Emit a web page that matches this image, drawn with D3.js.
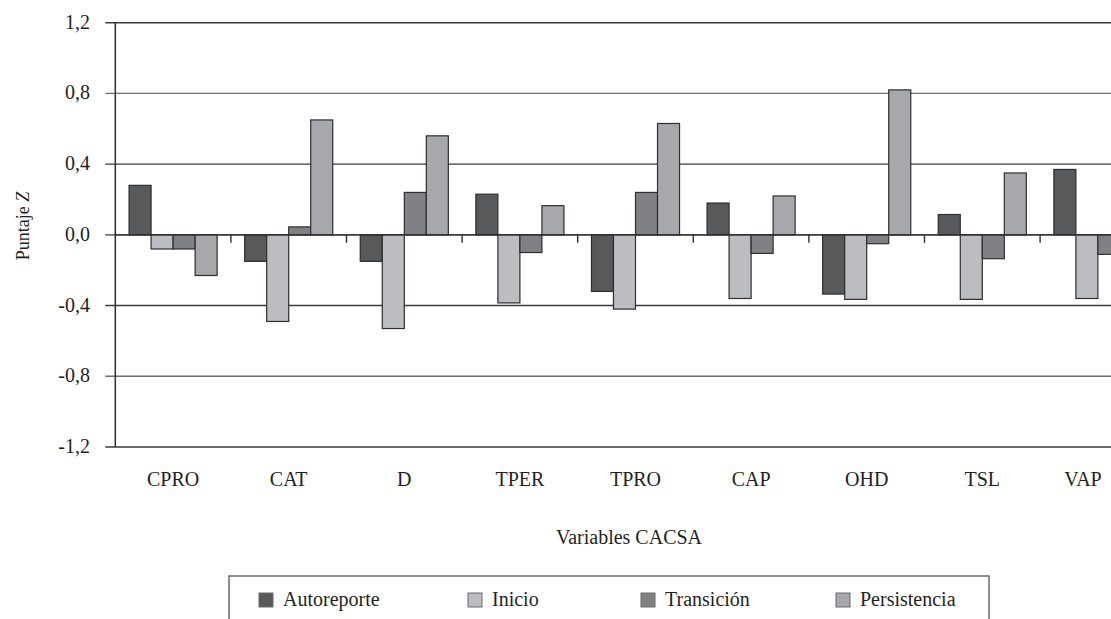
<html>
<head>
  <meta charset="utf-8">
  <script src="https://d3js.org/d3.v7.min.js"></script>
  <style>
    body { margin: 0; background: #fff; }
    text { font-family: "Liberation Serif", "Times New Roman", serif; fill: #231f20; }
  </style>
</head>
<body>
<svg width="1111" height="619"></svg>

<script>
  var categories = ["CPRO", "CAT", "D", "TPER", "TPRO", "CAP", "OHD", "TSL", "VAP"];
  var seriesNames = ["Autoreporte", "Inicio", "Transición", "Persistencia"];
  var autoreporte  = [0.28, -0.15, -0.15, 0.23, -0.32, 0.18, -0.335, 0.115, 0.37];
  var inicio       = [-0.08, -0.49, -0.53, -0.385, -0.42, -0.36, -0.365, -0.365, -0.36];
  var transicion   = [-0.08, 0.045, 0.24, -0.10, 0.24, -0.105, -0.05, -0.135, -0.11];
  // last bar is cut off in the source picture
  var persistencia = [-0.23, 0.65, 0.56, 0.165, 0.63, 0.22, 0.82, 0.35, null];
  var yTicks = [-1.2, -0.8, -0.4, 0, 0.4, 0.8, 1.2];

  var seriesValues = [autoreporte, inicio, transicion, persistencia];
  var colors = ["#58595b", "#bcbdc0", "#808184", "#a7a8ab"];

  var svg = d3.select("svg");
  svg.append("rect").attr("width", 1111).attr("height", 619).attr("fill", "#fff");

  var plotLeft = 115.3, plotTop = 22.7, plotBottom = 447, step = 115.6;

  var x0 = d3.scaleBand()
      .domain(categories)
      .range([plotLeft, plotLeft + step * categories.length])
      .padding(0);

  var x1 = d3.scaleBand()
      .domain(seriesNames)
      .range([0, x0.bandwidth()])
      .paddingInner(0)
      .paddingOuter(0.625);

  var y = d3.scaleLinear().domain([-1.2, 1.2]).range([plotBottom, plotTop]);

  var fmt = function(d) { return d3.format(".1f")(d).replace(".", ",").replace("−", "-"); };

  // gridlines
  svg.append("g")
    .selectAll("line")
    .data(yTicks)
    .enter().append("line")
      .attr("x1", plotLeft - 10)
      .attr("x2", x0.range()[1])
      .attr("y1", function(d) { return y(d); })
      .attr("y2", function(d) { return y(d); })
      .attr("stroke", function(d) { return Math.abs(d) == 0.8 ? "#6d6d6d" : "#3a3a3a"; })
      .attr("stroke-width", 1.4);

  // y tick labels
  svg.append("g")
    .selectAll("text")
    .data(yTicks)
    .enter().append("text")
      .attr("x", 90)
      .attr("y", function(d) { return y(d); })
      .attr("dy", "0.3em")
      .attr("text-anchor", "end")
      .style("font-size", "20px")
      .text(fmt);

  // bars
  var groups = svg.append("g")
    .selectAll("g")
    .data(categories)
    .enter().append("g")
      .attr("transform", function(d) { return "translate(" + x0(d) + ",0)"; });

  groups.selectAll("rect")
    .data(function(c, i) {
      return seriesNames.map(function(s, k) { return { s: s, k: k, v: seriesValues[k][i] }; })
        .filter(function(d) { return d.v != null; });
    })
    .enter().append("rect")
      .attr("x", function(d) { return x1(d.s); })
      .attr("width", x1.bandwidth())
      .attr("y", function(d) { return y(Math.max(0, d.v)); })
      .attr("height", function(d) { return Math.abs(y(d.v) - y(0)); })
      .attr("fill", function(d) { return colors[d.k]; })
      .attr("stroke", "#2e2e2e")
      .attr("stroke-width", 1.2);

  // zero line again on top of bars
  svg.append("line")
    .attr("x1", plotLeft).attr("x2", x0.range()[1])
    .attr("y1", y(0)).attr("y2", y(0))
    .attr("stroke", "#2e2e2e").attr("stroke-width", 1.4);

  // category ticks below zero line
  svg.append("g")
    .selectAll("line")
    .data(categories.slice(1))
    .enter().append("line")
      .attr("x1", function(d) { return x0(d); })
      .attr("x2", function(d) { return x0(d); })
      .attr("y1", y(0))
      .attr("y2", y(0) + 8)
      .attr("stroke", "#2e2e2e")
      .attr("stroke-width", 1.4);

  // y axis line
  svg.append("line")
    .attr("x1", plotLeft).attr("x2", plotLeft)
    .attr("y1", plotTop).attr("y2", plotBottom)
    .attr("stroke", "#2e2e2e").attr("stroke-width", 1.5);

  // category labels (the last one is pulled in so it stays inside the picture)
  svg.append("g")
    .selectAll("text")
    .data(categories)
    .enter().append("text")
      .attr("x", function(d) { return Math.min(x0(d) + x0.bandwidth() / 2, 1083); })
      .attr("y", 486)
      .attr("text-anchor", "middle")
      .style("font-size", "20px")
      .text(function(d) { return d; });

  svg.append("text")
    .attr("x", 629)
    .attr("y", 544)
    .attr("text-anchor", "middle")
    .style("font-size", "20px")
    .text("Variables CACSA");

  var yTitle = svg.append("text")
    .attr("transform", "translate(29,226) rotate(-90)")
    .attr("text-anchor", "middle")
    .style("font-size", "18px");
  yTitle.append("tspan").text("Puntaje ");
  yTitle.append("tspan").style("font-style", "italic").text("Z");

  // legend
  var legendX = [259, 468, 641, 836];
  svg.append("rect")
    .attr("x", 229).attr("y", 576)
    .attr("width", 760).attr("height", 80)
    .attr("fill", "none")
    .attr("stroke", "#6b6b6b")
    .attr("stroke-width", 1.5);

  var items = svg.append("g")
    .selectAll("g")
    .data(seriesNames)
    .enter().append("g")
      .attr("transform", function(d, i) { return "translate(" + legendX[i] + ",593)"; });

  items.append("rect")
    .attr("width", 14).attr("height", 14)
    .attr("fill", function(d, i) { return colors[i]; })
    .attr("stroke", "#6b6b6b")
    .attr("stroke-width", 1);

  items.append("text")
    .attr("x", 24)
    .attr("y", 13)
    .style("font-size", "20px")
    .text(function(d) { return d; });
</script>
</body>
</html>
